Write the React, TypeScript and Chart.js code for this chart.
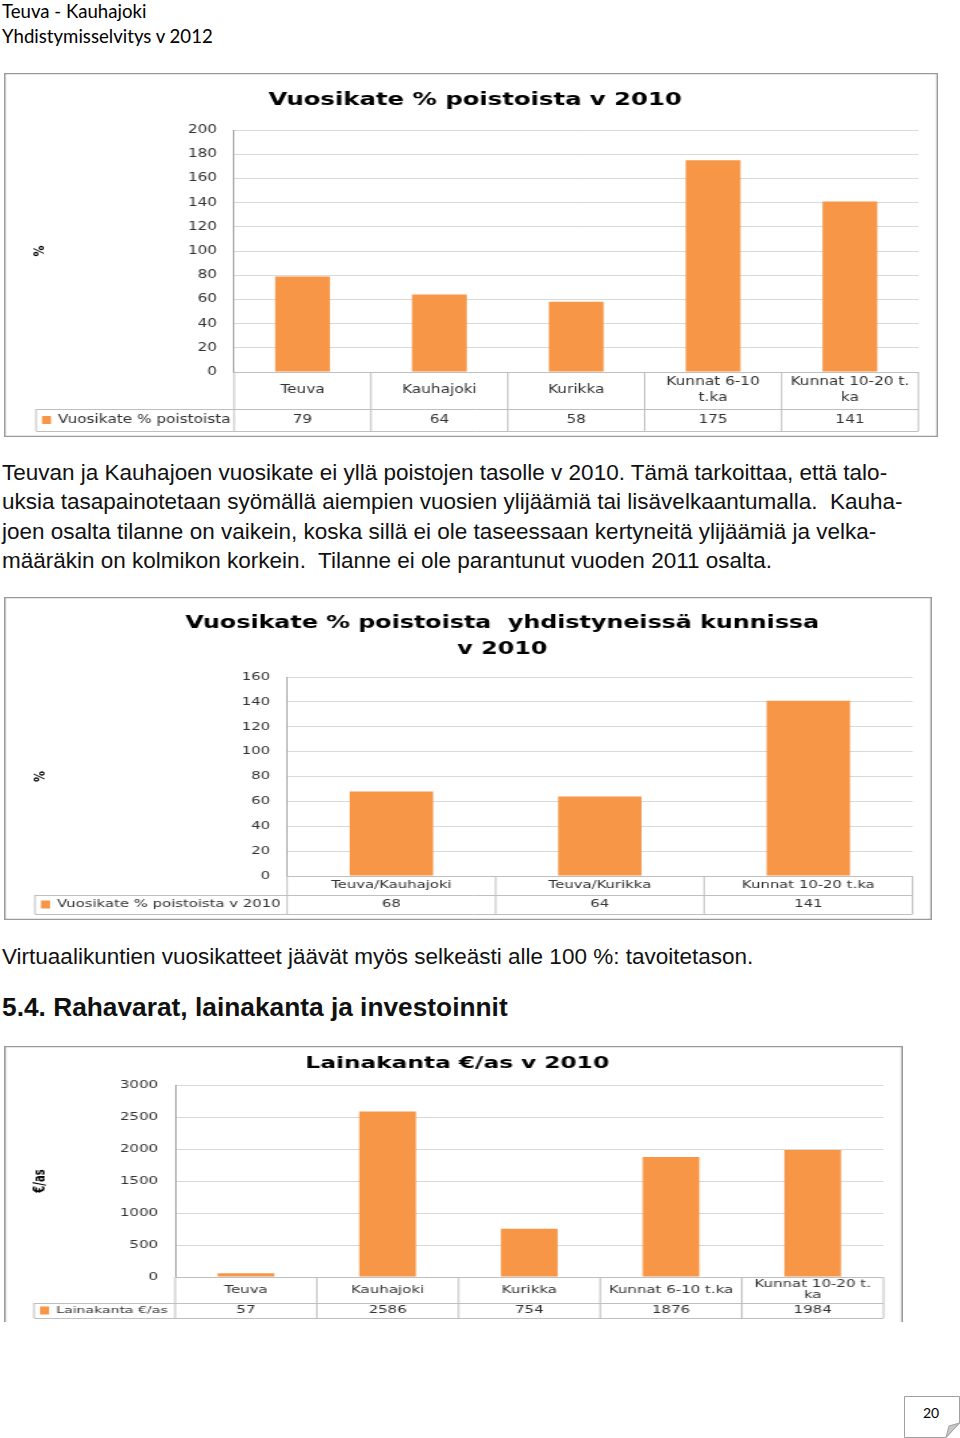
import { useEffect, useRef } from "react";
import { Chart, registerables } from "chart.js";

Chart.register(...registerables);

const ORANGE = "#F79646";
const GRID = "#d9d9d9";
const TABLE_LINE = "#bfbfbf";
const TEXT = "#333";
const CHART_FONT = "'DejaVu Sans', Verdana, sans-serif";

// Vuosikate % poistoista v 2010
const poistoCategories = ["Teuva", "Kauhajoki", "Kurikka", ["Kunnat 6-10", "t.ka"], ["Kunnat 10-20 t.", "ka"]];
const poistoValues = [79, 64, 58, 175, 141];
const poistoTicks = [0, 20, 40, 60, 80, 100, 120, 140, 160, 180, 200];

// Vuosikate % poistoista yhdistyneissä kunnissa v 2010
const yhdistyCategories = ["Teuva/Kauhajoki", "Teuva/Kurikka", "Kunnat 10-20 t.ka"];
const yhdistyValues = [68, 64, 141];
const yhdistyTicks = [0, 20, 40, 60, 80, 100, 120, 140, 160];

// Lainakanta €/as v 2010
const lainaCategories = ["Teuva", "Kauhajoki", "Kurikka", "Kunnat 6-10 t.ka", ["Kunnat 10-20 t.", "ka"]];
const lainaValues = [57, 2586, 754, 1876, 1984];
const lainaTicks = [0, 500, 1000, 1500, 2000, 2500, 3000];

// frame, title and the excel-style data table under the plot
const excelPlugin = {
  id: "excel",
  beforeDraw(chart: any, _args: any, o: any) {
    const { ctx, width, height } = chart;
    ctx.save();
    ctx.fillStyle = "#fff";
    ctx.fillRect(0, 0, width, height);
    ctx.strokeStyle = "#9a9a9a";
    ctx.lineWidth = 1.2;
    ctx.beginPath();
    ctx.moveTo(0.6, o.frameBottom ? height - 0.6 : height);
    ctx.lineTo(0.6, 0.6);
    ctx.lineTo(width - 0.6, 0.6);
    ctx.lineTo(width - 0.6, o.frameBottom ? height - 0.6 : height);
    if (o.frameBottom) ctx.closePath();
    ctx.stroke();

    ctx.fillStyle = "#000";
    ctx.font = o.titleFont;
    ctx.textAlign = "center";
    ctx.textBaseline = "middle";
    o.title.forEach((t: string, i: number) => ctx.fillText(t, o.titleX, o.titleY[i]));
    ctx.restore();
  },
  afterDraw(chart: any, _args: any, o: any) {
    const { ctx, chartArea: a } = chart;
    const xs = chart.scales.x;
    const labels = chart.data.labels;
    const ds = chart.data.datasets[0];
    const n = labels.length;
    const half = (xs.getPixelForValue(1) - xs.getPixelForValue(0)) / 2;
    const y0 = a.bottom;
    const y1 = y0 + o.labelRow;
    const y2 = y1 + o.valueRow;

    ctx.save();
    ctx.strokeStyle = TABLE_LINE;
    ctx.lineWidth = 1;
    const line = (xa: number, ya: number, xb: number, yb: number) => {
      ctx.beginPath();
      ctx.moveTo(xa, ya);
      ctx.lineTo(xb, yb);
      ctx.stroke();
    };
    line(a.left, Math.round(y0) + 0.5, a.right, Math.round(y0) + 0.5);
    line(o.legendLeft, Math.round(y1) + 0.5, a.right, Math.round(y1) + 0.5);
    line(o.legendLeft, Math.round(y2) + 0.5, a.right, Math.round(y2) + 0.5);
    line(o.legendLeft, y1, o.legendLeft, y2);
    for (let i = 0; i <= n; i++) {
      const x = i < n ? xs.getPixelForValue(i) - half : xs.getPixelForValue(n - 1) + half;
      line(x, y0, x, y2);
    }

    ctx.fillStyle = TEXT;
    ctx.font = `${o.fontSize}px ${CHART_FONT}`;
    ctx.textAlign = "center";
    ctx.textBaseline = "middle";
    labels.forEach((l: string | string[], i: number) => {
      const parts = Array.isArray(l) ? l : [l];
      const cx = xs.getPixelForValue(i);
      const cy = (y0 + y1) / 2;
      parts.forEach((t, k) => ctx.fillText(t, cx, cy + (k - (parts.length - 1) / 2) * o.lineGap));
      ctx.fillText(String(ds.data[i]), cx, (y1 + y2) / 2);
    });

    const ly = (y1 + y2) / 2;
    ctx.fillStyle = ORANGE;
    ctx.fillRect(o.legendLeft + o.swatchOffset, ly - 4, o.swatchWidth, 8);
    ctx.fillStyle = TEXT;
    ctx.textAlign = "left";
    ctx.font = `${o.legendSize}px ${CHART_FONT}`;
    ctx.fillText(ds.label, o.legendLeft + o.textOffset, ly);
    ctx.restore();
  },
};

interface ExcelBarProps {
  left: number;
  top: number;
  width: number;
  height: number;
  stretch: number;
  categories: (string | string[])[];
  values: number[];
  ticks: number[];
  series: string;
  yTitle: string;
  yTitleSize: number;
  title: string[];
  titleX: number;
  titleY: number[];
  titleSize: number;
  plot: { left: number; top: number; right: number; bottom: number };
  labelRow: number;
  valueRow: number;
  legendLeft: number;
  frameBottom: boolean;
  fontSize: number;
  legendSize?: number;
  lineGap: number;
}

// all horizontal positions are given in page pixels; the canvas is drawn narrower
// and stretched sideways by CSS, like the wide embedded picture in the document
const ExcelBar: React.FC<ExcelBarProps> = (p) => {
  const canvasRef = useRef<HTMLCanvasElement>(null);
  const s = p.stretch;
  const innerWidth = Math.round(p.width / s);

  useEffect(() => {
    if (!canvasRef.current) return;
    const titleLine = p.yTitleSize * 1.2;
    const padLeft = 36 / s - 4 - titleLine / 2;
    const chart = new Chart(canvasRef.current, {
      type: "bar",
      data: {
        labels: p.categories,
        datasets: [
          {
            label: p.series,
            data: p.values,
            backgroundColor: ORANGE,
            borderWidth: 0,
            barPercentage: 0.4,
            categoryPercentage: 1,
          },
        ],
      },
      options: {
        responsive: false,
        animation: false,
        events: [],
        layout: {
          padding: {
            left: padLeft,
            top: p.plot.top,
            right: innerWidth - p.plot.right / s,
            bottom: p.height - p.plot.bottom,
          },
        },
        plugins: {
          legend: { display: false },
          tooltip: { enabled: false },
          title: { display: false },
          excel: {
            title: p.title,
            titleX: p.titleX / s,
            titleY: p.titleY,
            titleFont: `bold ${p.titleSize}px ${CHART_FONT}`,
            labelRow: p.labelRow,
            valueRow: p.valueRow,
            legendLeft: p.legendLeft / s,
            swatchOffset: 6 / s,
            swatchWidth: 9 / s,
            textOffset: 22 / s,
            frameBottom: p.frameBottom,
            fontSize: p.fontSize,
            legendSize: p.legendSize ?? p.fontSize,
            lineGap: p.lineGap,
          },
        } as any,
        scales: {
          x: { display: false },
          y: {
            min: p.ticks[0],
            max: p.ticks[p.ticks.length - 1],
            afterBuildTicks: (sc: any) => {
              sc.ticks = p.ticks.map((v) => ({ value: v }));
            },
            afterFit: (sc: any) => {
              sc.width = p.plot.left / s - padLeft;
            },
            grid: { color: GRID, drawTicks: false },
            border: { display: true, color: "#a6a6a6" },
            ticks: {
              padding: 17 / s,
              color: TEXT,
              font: { family: CHART_FONT, size: p.fontSize },
              callback: (v: any) => String(v),
            },
            title: {
              display: true,
              text: p.yTitle,
              color: "#000",
              font: { family: CHART_FONT, size: p.yTitleSize, weight: "bold" },
              padding: { top: 4, bottom: 4 },
            },
          },
        },
      },
      plugins: [excelPlugin as any],
    });
    return () => chart.destroy();
  }, []);

  return (
    <canvas
      ref={canvasRef}
      width={innerWidth}
      height={p.height}
      style={{ position: "absolute", left: p.left, top: p.top, width: p.width, height: p.height }}
    />
  );
};

const bodyText: React.CSSProperties = {
  position: "absolute",
  left: 2,
  margin: 0,
  fontFamily: "'Liberation Sans', Arial, sans-serif",
  fontSize: 22.5,
  lineHeight: "29.4px",
  color: "#111",
  whiteSpace: "nowrap",
};

export default function App() {
  return (
    <div style={{ position: "absolute", left: 0, top: 0, width: 960, height: 1438, background: "#fff", overflow: "hidden" }}>
      <div
        style={{
          position: "absolute",
          left: 2,
          top: -1,
          fontFamily: "Lato, 'Open Sans', sans-serif",
          fontSize: 18.6,
          lineHeight: "25px",
          color: "#000",
          whiteSpace: "nowrap",
        }}
      >
        Teuva - Kauhajoki
        <br />
        Yhdistymisselvitys v 2012
      </div>

      <ExcelBar
        left={4}
        top={73}
        width={934}
        height={364}
        stretch={1.33}
        categories={poistoCategories}
        values={poistoValues}
        ticks={poistoTicks}
        series="Vuosikate % poistoista"
        yTitle="%"
        yTitleSize={11}
        title={["Vuosikate % poistoista v 2010"]}
        titleX={471}
        titleY={[27]}
        titleSize={18.3}
        plot={{ left: 230, top: 57, right: 914, bottom: 299 }}
        labelRow={37}
        valueRow={22}
        legendLeft={32}
        frameBottom={true}
        fontSize={11.5}
        lineGap={16}
      />

      <p style={{ ...bodyText, top: 458 }}>
        Teuvan ja Kauhajoen vuosikate ei yllä poistojen tasolle v 2010. Tämä tarkoittaa, että talo-
        <br />
        uksia tasapainotetaan syömällä aiempien vuosien ylijäämiä tai lisävelkaantumalla.&nbsp; Kauha-
        <br />
        joen osalta tilanne on vaikein, koska sillä ei ole taseessaan kertyneitä ylijäämiä ja velka-
        <br />
        määräkin on kolmikon korkein.&nbsp; Tilanne ei ole parantunut vuoden 2011 osalta.
      </p>

      <ExcelBar
        left={4}
        top={597}
        width={928}
        height={323}
        stretch={1.35}
        categories={yhdistyCategories}
        values={yhdistyValues}
        ticks={yhdistyTicks}
        series="Vuosikate % poistoista v 2010"
        yTitle="%"
        yTitleSize={11}
        title={["Vuosikate % poistoista  yhdistyneissä kunnissa", "v 2010"]}
        titleX={498}
        titleY={[26, 52]}
        titleSize={17.6}
        plot={{ left: 283, top: 80, right: 908, bottom: 279 }}
        labelRow={19}
        valueRow={19}
        legendLeft={31}
        frameBottom={true}
        fontSize={11}
        lineGap={14}
      />

      <p style={{ ...bodyText, top: 942 }}>
        Virtuaalikuntien vuosikatteet jäävät myös selkeästi alle 100 %: tavoitetason.
      </p>
      <p style={{ ...bodyText, top: 993, fontWeight: "bold", fontSize: 26.3 }}>
        5.4. Rahavarat, lainakanta ja investoinnit
      </p>

      <ExcelBar
        left={4}
        top={1046}
        width={899}
        height={276}
        stretch={1.5}
        categories={lainaCategories}
        values={lainaValues}
        ticks={lainaTicks}
        series="Lainakanta €/as"
        yTitle="€/as"
        yTitleSize={10}
        title={["Lainakanta €/as v 2010"]}
        titleX={453}
        titleY={[18]}
        titleSize={15.5}
        plot={{ left: 171, top: 39, right: 879, bottom: 231 }}
        labelRow={26}
        valueRow={15}
        legendLeft={30}
        frameBottom={false}
        fontSize={10}
        legendSize={9.4}
        lineGap={11}
      />

      <svg width={58} height={44} style={{ position: "absolute", left: 903, top: 1395 }}>
        <path d="M1.5 1.5 H56.5 V28 L43 42.5 H1.5 Z" fill="#fff" stroke="#a0a0a0" strokeWidth={1} />
        <path d="M43 42.5 L46 31 L56.5 28 Z" fill="#c8c8c8" stroke="#a0a0a0" strokeWidth={1} />
        <text x={28} y={23} textAnchor="middle" fontFamily="Lato, 'Open Sans', sans-serif" fontSize={14} fill="#000">
          20
        </text>
      </svg>
    </div>
  );
}
